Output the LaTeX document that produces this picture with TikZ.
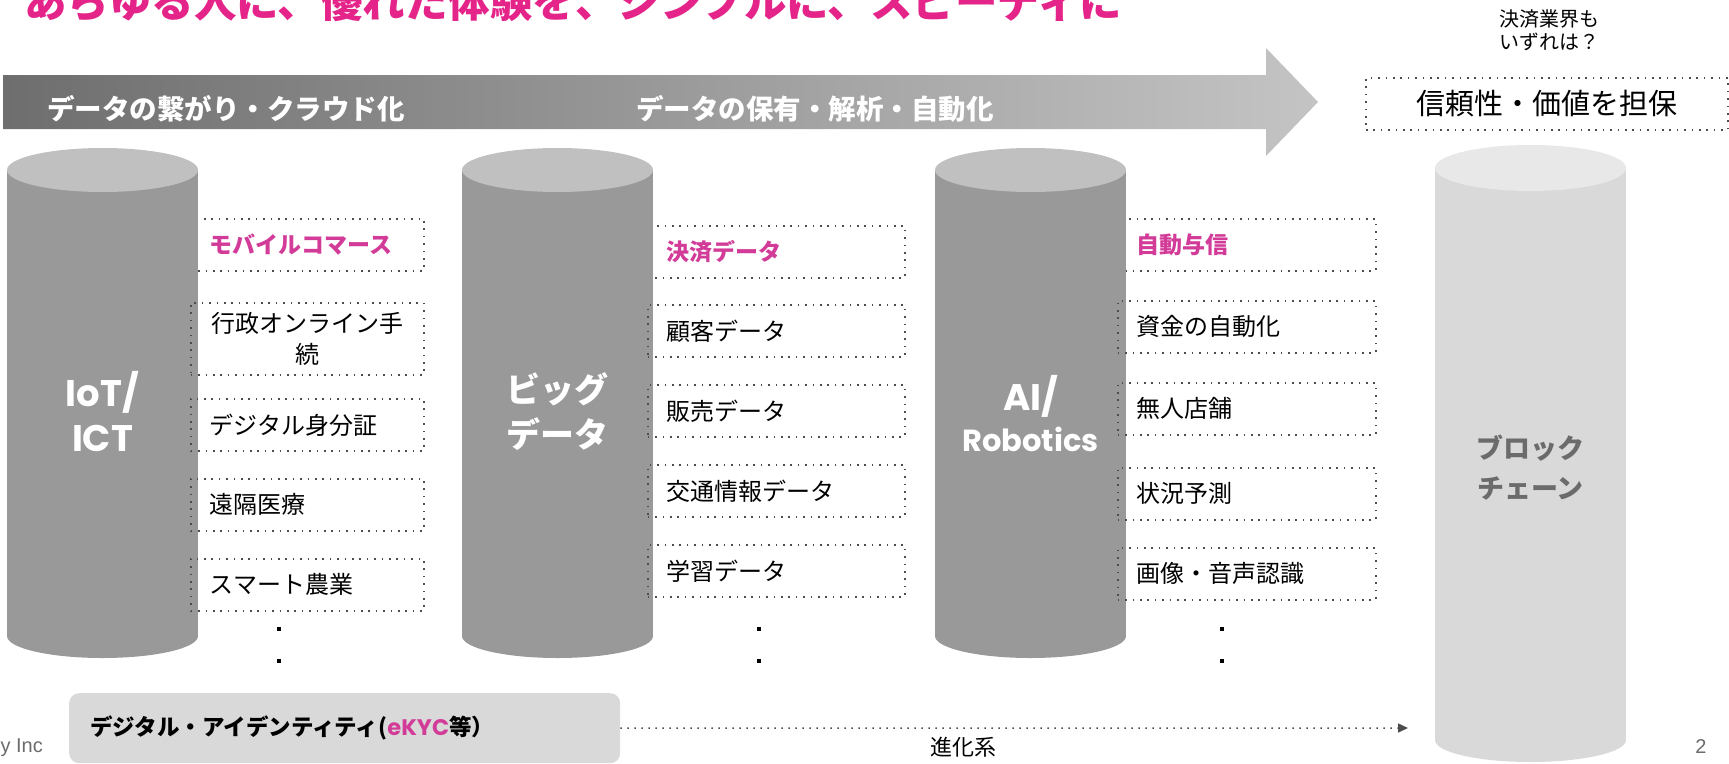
\documentclass[tikz,border=0pt]{standalone}
\usepackage{fontspec}
\setmainfont{Noto Sans CJK JP}
\newfontfamily\popfont{Poppins}
\newfontfamily\arialfont{Liberation Sans}
\usetikzlibrary{arrows.meta}
\definecolor{pinkt}{HTML}{E5248A}
\definecolor{pinkb}{HTML}{D23C98}
\definecolor{bandark}{HTML}{6E6E6E}
\definecolor{banlight}{HTML}{C4C4C4}
\definecolor{cyldark}{HTML}{999999}
\definecolor{cyldarktop}{HTML}{C0C0C0}
\definecolor{cyllight}{HTML}{D9D9D9}
\definecolor{cyllighttop}{HTML}{E8E8E8}
\definecolor{dotgray}{HTML}{4D4D4D}
\definecolor{footgray}{HTML}{6B6B6B}

\begin{document}
\begin{tikzpicture}[x=1pt,y=-1pt,
    dotbox/.style={draw=dotgray,line width=1.6pt,dash pattern=on 1.6pt off 5.8pt},
    itembox/.style={dotbox,inner xsep=19pt,inner ysep=0pt,minimum height=52pt,
      align=left,anchor=north west,font=\fontsize{24}{31}\selectfont},
    hilite/.style={text=pinkb,font=\fontsize{23}{28}\selectfont\bfseries},
    bantext/.style={anchor=west,inner sep=0pt,text=white,
      font=\fontsize{27.5}{32}\selectfont\bfseries},
    cyllabel/.style={text=white,align=center,font=\fontsize{34}{45}\selectfont\bfseries},
    footer/.style={text=footgray,inner sep=0pt,font=\arialfont\fontsize{20}{24}\selectfont}]
  \useasboundingbox (0,0) rectangle (1729,763);

  \node[anchor=base west,inner sep=0pt,text=pinkt,
    font=\fontsize{42.5}{50}\selectfont\bfseries] (title) at (24,17)
    {あらゆる人に、優れた体験を、シンプルに、スピーディに};

  \shade[left color=bandark,right color=banlight] (3,75) -- (1266,75) -- (1266,48)
    -- (1318,102) -- (1266,156) -- (1266,129) -- (3,129) -- cycle;
  \node[bantext] (ban1) at (47,109) {データの繋がり・クラウド化};
  \node[bantext] (ban2) at (636,109) {データの保有・解析・自動化};

  \node[align=center,font=\fontsize{20}{23}\selectfont] (ask) at (1549,30) {決済業界も\\いずれは？};
  \node[dotbox,minimum width=362pt,minimum height=52pt,
    font=\fontsize{29}{34}\selectfont] (trust) at (1547,104) {信頼性・価値を担保};

  \node[itembox,hilite,text width=195pt] (iot1) at (190,218) {モバイルコマース};
  \node[itembox,hilite,text width=219pt] (big1) at (647,225) {決済データ};
  \node[itembox,hilite,text width=220pt] (ai1) at (1117,218) {自動与信};

  \foreach \cx in {102.5,557.5,1030.5} {
    \fill[cyldark] (\cx,636) ellipse[x radius=95.5,y radius=22];
    \fill[cyldark] (\cx-95.5,170) rectangle (\cx+95.5,636);
    \fill[cyldarktop] (\cx,170) ellipse[x radius=95.5,y radius=22];
  }
  \fill[cyllight] (1530.5,740) ellipse[x radius=95.5,y radius=22];
  \fill[cyllight] (1435,168) rectangle (1626,740);
  \fill[cyllighttop] (1530.5,168) ellipse[x radius=95.5,y radius=23];

  \node[cyllabel,font=\popfont\fontsize{37}{45}\selectfont\bfseries] (iot) at (102.5,412) {IoT/\\ICT};
  \node[cyllabel] (big) at (557.5,412) {ビッグ\\データ};
  \node[cyllabel,font=\popfont\fontsize{30.5}{41}\selectfont\bfseries] (ai) at (1030.5,414)
    {{\fontsize{37}{41}\selectfont AI/}\\Robotics};
  \node[cyllabel,text=footgray,font=\fontsize{27}{40}\selectfont\bfseries] (chain) at (1530.5,468)
    {ブロック\\チェーン};

  \node[itembox,text width=195pt,minimum height=72pt,align=center] (iot2) at (190,302) {行政オンライン手\\続};
  \node[itembox,text width=195pt] (iot3) at (190,398) {デジタル身分証};
  \node[itembox,text width=195pt] (iot4) at (190,478) {遠隔医療};
  \node[itembox,text width=195pt] (iot5) at (190,558) {スマート農業};

  \node[itembox,text width=219pt] (big2) at (647,304) {顧客データ};
  \node[itembox,text width=219pt] (big3) at (647,384) {販売データ};
  \node[itembox,text width=219pt] (big4) at (647,464) {交通情報データ};
  \node[itembox,text width=219pt] (big5) at (647,544) {学習データ};

  \node[itembox,text width=220pt] (ai2) at (1117,300) {資金の自動化};
  \node[itembox,text width=220pt] (ai3) at (1117,382) {無人店舗};
  \node[itembox,text width=220pt] (ai4) at (1117,467) {状況予測};
  \node[itembox,text width=220pt] (ai5) at (1117,547) {画像・音声認識};

  \foreach \x in {279,759,1222}
    \foreach \y in {629,661}
      \fill (\x-2,\y-2) rectangle (\x+2,\y+2);

  \node[fill=cyllight,rounded corners=10pt,anchor=north west,minimum width=551pt,
    minimum height=70pt,text width=509pt,inner xsep=21pt,align=left,
    font=\fontsize{22.5}{27}\selectfont\bfseries] (ident) at (69,693)
    {デジタル・アイデンティティ(\textcolor{pinkb}{\popfont eKYC}等）};
  \coordinate (evo) at (1408,728);
  \draw[draw=dotgray,line width=1.5pt,dash pattern=on 1.5pt off 5.5pt,
    -{Triangle[length=10pt,width=9pt,fill=dotgray]}] (ident) -- (evo);
  \node[font=\fontsize{22}{26}\selectfont] (evotext) at (963,747) {進化系};

  \node[footer,anchor=east] (copy) at (43,748) {y Inc};
  \node[footer] (page) at (1701,747) {2};
\end{tikzpicture}
\end{document}
